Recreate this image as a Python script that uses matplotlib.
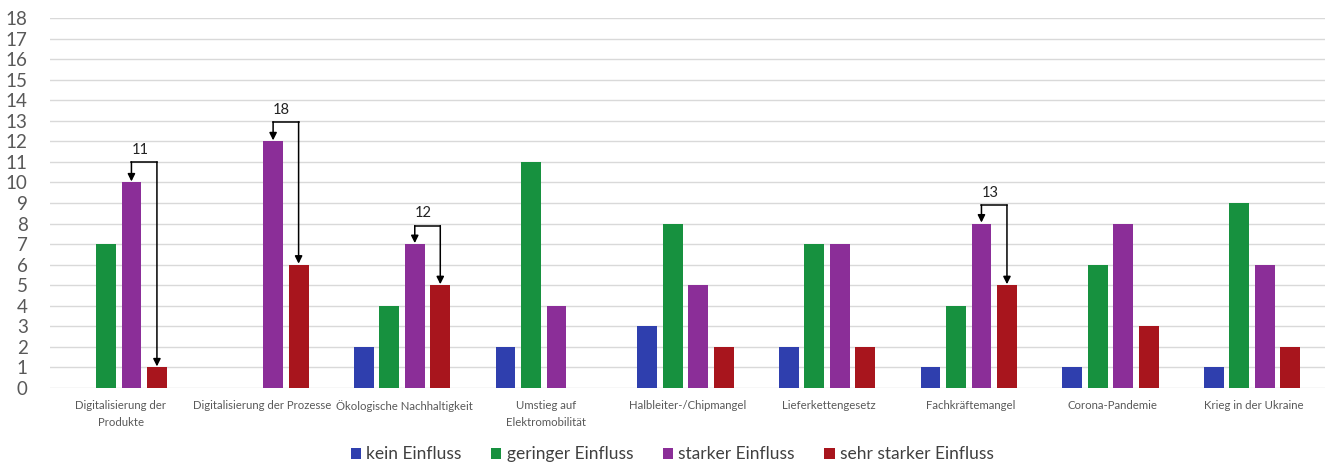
import numpy as np
import matplotlib
matplotlib.use("Agg")
import matplotlib.pyplot as plt

matplotlib.rc('font', family=['Lato', 'DejaVu Sans'])

categories = ["Digitalisierung der\nProdukte", "Digitalisierung der Prozesse",
              "Ökologische Nachhaltigkeit", "Umstieg auf\nElektromobilität",
              "Halbleiter-/Chipmangel", "Lieferkettengesetz", "Fachkräftemangel",
              "Corona-Pandemie", "Krieg in der Ukraine"]
kein = [0, 0, 2, 2, 3, 2, 1, 1, 1]
geringer = [7, 0, 4, 11, 8, 7, 4, 6, 9]
starker = [10, 12, 7, 4, 5, 7, 8, 8, 6]
sehr_starker = [1, 6, 5, 0, 2, 2, 5, 3, 2]
series_names = ["kein Einfluss", "geringer Einfluss", "starker Einfluss", "sehr starker Einfluss"]

# annotated groups: (category index, label, bracket height)
brackets = [(0, "11", 11.0), (1, "18", 12.95), (2, "12", 7.9), (6, "13", 8.9)]

colors = ["#2f3fae", "#17913f", "#8b2e98", "#a8151d"]

fig = plt.figure(figsize=(13.29, 4.63), dpi=100)
ax = fig.add_axes([0.0376, 0.162, 0.9594, 0.799])

x = np.arange(len(categories))
step = 0.18
width = 0.14
all_series = [kein, geringer, starker, sehr_starker]
for k, (vals, col, name) in enumerate(zip(all_series, colors, series_names)):
    ax.bar(x + (k - 1.5) * step - 0.015, vals, width, color=col, label=name, zorder=3)

for idx, lab, h in brackets:
    xp = idx + 0.5 * step - 0.015
    xr = idx + 1.5 * step - 0.015
    ax.plot([xp, xr], [h, h], color="black", lw=1.1, zorder=4)
    for xx, top in [(xp, starker[idx]), (xr, sehr_starker[idx])]:
        ax.annotate("", xy=(xx, top + 0.05), xytext=(xx, h),
                    arrowprops=dict(arrowstyle="-|>", color="black", lw=1.1,
                                    mutation_scale=11, shrinkA=0, shrinkB=0),
                    zorder=4)
    ax.text((xp + xr) / 2 - 0.03, h + 0.25, lab, ha="center", va="bottom",
            fontsize=10.5, color="#222222")

ax.set_xlim(-0.5, len(categories) - 0.5)
ax.set_ylim(0, 18)
ax.set_yticks(range(0, 19))
ax.tick_params(axis="y", length=0, labelsize=13.5, labelcolor="#595959", pad=16)
ax.set_xticks(x)
ax.set_xticklabels(categories, fontsize=8.2, color="#595959", linespacing=1.6)
ax.tick_params(axis="x", length=0, pad=9)
ax.grid(axis="y", color="#d9d9d9", lw=1, zorder=0)
for s in ax.spines.values():
    s.set_visible(False)

ax.legend(loc="upper center", bbox_to_anchor=(0.488, -0.115), ncol=4, frameon=False,
          fontsize=12.5, handlelength=0.6, handleheight=0.6, handletextpad=0.3,
          columnspacing=1.7, labelcolor="#404040")

fig.savefig("out.png", dpi=100, facecolor="white")
